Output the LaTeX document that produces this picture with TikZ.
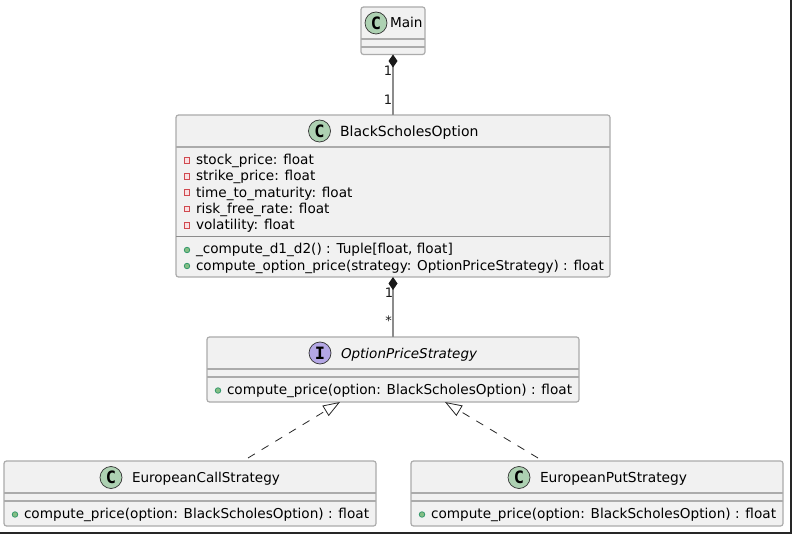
\documentclass[tikz,border=0pt]{standalone}
\usepackage{fontspec}
\setmainfont{DejaVu Sans}
\newfontfamily\spotfont{DejaVu Sans Mono}
\usetikzlibrary{arrows.meta}
\definecolor{boxfill}{HTML}{F1F1F1}
\definecolor{boxline}{HTML}{ABABAB}
\definecolor{linkline}{HTML}{8C8C8C}
\definecolor{spotC}{HTML}{ADD1B2}
\definecolor{spotI}{HTML}{B4A7E5}
\definecolor{privline}{HTML}{C82930}
\definecolor{privfill}{HTML}{F9E0E2}
\definecolor{publine}{HTML}{038048}
\definecolor{pubfill}{HTML}{84BE84}
\tikzset{
  classbox/.style={draw=boxline,fill=boxfill,line width=1.2pt,rounded corners=2.5pt,inner sep=0pt,outer sep=0pt,anchor=north west},
  divider/.style={draw=boxline,line width=1.2pt},
  thindivider/.style={draw=linkline,line width=0.9pt},
  txt/.style={inner sep=0pt,outer sep=0pt,font=\fontsize{13.63}{16}\selectfont,anchor=base west,text=black},
  title/.style={txt},
  spot/.style={circle,draw=black!80,line width=0.7pt,minimum size=22pt,inner sep=0pt,outer sep=0pt,text=black,font=\spotfont\bfseries\fontsize{17}{17}\selectfont},
  privicon/.style={draw=privline!85,fill=privfill,line width=1pt,minimum size=5.5pt,inner sep=0pt,outer sep=0pt},
  pubicon/.style={circle,draw=publine!80,fill=pubfill,line width=0.8pt,minimum size=5.5pt,inner sep=0pt,outer sep=0pt},
  mult/.style={inner sep=0pt,outer sep=0pt,font=\fontsize{13}{15}\selectfont,text=black!90},
  compose/.style={draw=linkline,line width=1.6pt,{Diamond[length=13pt,width=9pt,fill=black!90,color=black!90]}-},
  realize/.style={draw=black!85,line width=0.8pt,dash pattern=on 8pt off 8pt,-{Triangle[open,length=17pt,width=12pt,fill=white]}},
}
\begin{document}
\begin{tikzpicture}[x=1pt,y=-1pt]
\useasboundingbox (0,0) rectangle (792,534);
\fill[white] (0,0) rectangle (792,534);
\draw[black!85,line width=2pt] (791,0) -- (791,533) -- (0,533);

% boxes
\node[classbox,minimum width=64pt,minimum height=47.5pt] (main) at (361,7) {};
\draw[divider] (361,39) -- (425,39) (361,47) -- (425,47);
\node[classbox,minimum width=434pt,minimum height=162pt] (bso) at (176,115) {};
\draw[divider] (176,147) -- (610,147);
\draw[thindivider] (176,236) -- (610,236);
\node[classbox,minimum width=372pt,minimum height=65pt] (ops) at (207,337) {};
\draw[divider] (207,369) -- (579,369) (207,377) -- (579,377);
\node[classbox,minimum width=372pt,minimum height=65pt] (ecs) at (4,461) {};
\draw[divider] (4,493) -- (376,493) (4,501) -- (376,501);
\node[classbox,minimum width=372pt,minimum height=65pt] (eps) at (411,461) {};
\draw[divider] (411,493) -- (783,493) (411,501) -- (783,501);

% spots
\node[spot,fill=spotC] (s1) at (376,23) {C};
\node[spot,fill=spotC] (s2) at (319.5,131) {C};
\node[spot,fill=spotI] (s3) at (320,353) {I};
\node[spot,fill=spotC] (s4) at (111,477.5) {C};
\node[spot,fill=spotC] (s5) at (519,477.5) {C};

% titles
\node[title] (t1) at (390,28) {Main};
\node[title,font=\fontsize{14}{16}\selectfont] (t2) at (340,136.5) {BlackScholesOption};
\node[title,font=\fontsize{13.5}{16}\selectfont] (t3) at (341,358.5) {\itshape OptionPriceStrategy};
\node[title,font=\fontsize{13.55}{16}\selectfont] (t4) at (132,482) {EuropeanCallStrategy};
\node[title,font=\fontsize{13.8}{16}\selectfont] (t5) at (540,482) {EuropeanPutStrategy};

% attributes
\node[privicon] (i1) at (187,160.5) {}; \node[txt] (a1) at (196,164.5) {stock\_price: float};
\node[privicon] (i2) at (187,176.5) {}; \node[txt] (a2) at (196,181) {strike\_price: float};
\node[privicon] (i3) at (187,192.5) {}; \node[txt] (a3) at (196,197.5) {time\_to\_maturity: float};
\node[privicon] (i4) at (187,209) {};   \node[txt] (a4) at (196,213.5) {risk\_free\_rate: float};
\node[privicon] (i5) at (187,225.5) {}; \node[txt] (a5) at (196,229.5) {volatility: float};
% methods
\node[pubicon] (m1) at (187,250) {}; \node[txt] (b1) at (196,253.5) {\_compute\_d1\_d2() : Tuple[float, float]};
\node[pubicon] (m2) at (187,266) {}; \node[txt,font=\fontsize{13.56}{16}\selectfont] (b2) at (196,270.5) {compute\_option\_price(strategy: OptionPriceStrategy) : float};
\node[pubicon] (m3) at (218,390.5) {}; \node[txt] (b3) at (227,394.5) {compute\_price(option: BlackScholesOption) : float};
\node[pubicon] (m4) at (15,514.5) {}; \node[txt] (b4) at (24,518.5) {compute\_price(option: BlackScholesOption) : float};
\node[pubicon] (m5) at (422,514.5) {}; \node[txt] (b5) at (431,518.5) {compute\_price(option: BlackScholesOption) : float};

% connectors
\draw[compose] (main.south) -- (bso.north);
\draw[compose] (bso.south) -- (ops.north);
\coordinate (ecsfree) at (248,458);
\coordinate (epsfree) at (538,458);
\coordinate (opsL) at (340,402);
\coordinate (opsR) at (445,402);
\draw[realize] (ecsfree) -- (opsL);
\draw[realize] (epsfree) -- (opsR);

% multiplicities
\node[mult] (l1) at (388,71) {1};
\node[mult] (l2) at (388,99.5) {1};
\node[mult] (l3) at (389,293) {1};
\node[mult] (l4) at (388.5,321) {*};
\end{tikzpicture}
\end{document}
